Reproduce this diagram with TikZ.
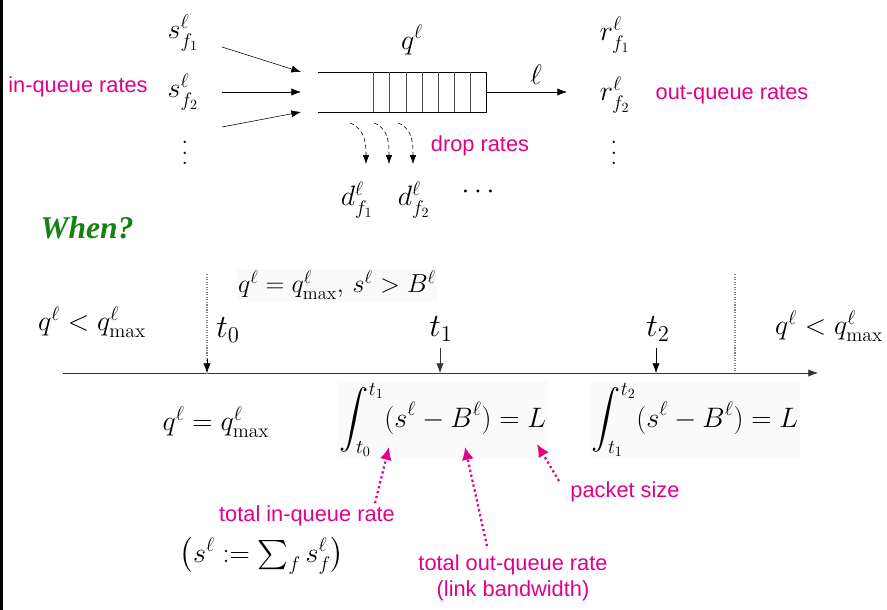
\RequirePackage{fix-cm}
\documentclass[tikz,border=0pt]{standalone}
\usepackage{exscale}
\usepackage{fontspec}
\usetikzlibrary{arrows.meta}
\newfontfamily\lblfont{Liberation Sans}
\newfontfamily\whenfont{Liberation Serif}
\definecolor{notepink}{RGB}{225,0,140}
\definecolor{whengreen}{RGB}{20,130,20}
\newcommand{\tallvdots}{\vbox{\baselineskip=7.5pt\lineskiplimit=0pt\hbox{.}\hbox{.}\hbox{.}}}
\begin{document}
\begin{tikzpicture}[
    x=0.025cm, y=-0.025cm,
    rate/.style={font=\fontsize{20}{24}\selectfont, inner sep=1pt},
    bigmath/.style={font=\fontsize{20}{24}\selectfont, inner sep=1pt},
    smallmath/.style={font=\fontsize{18.5}{22}\selectfont, inner sep=1pt, fill=black!2},
    tlabel/.style={font=\fontsize{23}{26}\selectfont, inner sep=1pt},
    note/.style={font=\lblfont\fontsize{15.5}{18.5}\selectfont, text=notepink, inner sep=1pt, align=center},
    arr/.style={-{Latex[length=2.4mm,width=1.8mm]}},
    drop/.style={densely dashed, -{Latex[length=2.2mm,width=1.6mm]}},
    hint/.style={notepink, line width=1.6pt, dotted, -{Latex[length=3.2mm,width=3mm]}},
    guide/.style={gray, densely dotted, line width=0.8pt}
]
\useasboundingbox (0,0) rectangle (887,610);
\draw[line width=2.2pt] (1,0) -- (1,610);

% queue and rates
\node[rate] (s1) at (183,33) {$s^\ell_{f_1}$};
\node[rate] (s2) at (183,92) {$s^\ell_{f_2}$};
\node[rate] (sdots) at (185,153) {\tallvdots};
\node[rate] (q) at (412,40) {$q^\ell$};
\node[rate] (r1) at (615,35) {$r^\ell_{f_1}$};
\node[rate] (r2) at (615,95) {$r^\ell_{f_2}$};
\node[rate] (rdots) at (614,153) {\tallvdots};
\node[rate] (d1) at (357,200) {$d^\ell_{f_1}$};
\node[rate] (d2) at (414,200) {$d^\ell_{f_2}$};
\node[rate] (ddots) at (478,192) {$\cdots$};
\node[note] (inrates) at (78,87) {in-queue rates};
\node[note] (outrates) at (732,95) {out-queue rates};
\node[note] (droprates) at (480,146) {drop rates};

\draw (318,72) -- (486,72) -- (486,112) -- (318,112);
\foreach \x in {373,389,406,422,438,454,470}
  \draw[black!70] (\x,72) -- (\x,112);

\coordinate (in1) at (222,47);  \coordinate (qin1) at (301,72);
\coordinate (in2) at (222,92);  \coordinate (qin2) at (301,92);
\coordinate (in3) at (222,127); \coordinate (qin3) at (301,112);
\draw[arr] (in1) -- (qin1);
\draw[arr] (in2) -- (qin2);
\draw[arr] (in3) -- (qin3);

\coordinate (qout) at (486,92); \coordinate (link) at (567,92);
\draw[arr] (qout) -- node[rate, above=4pt, pos=0.62] (ell) {$\ell$} (link);

\foreach \i/\sx/\ex in {1/350/366, 2/374/389, 3/398/413} {
  \coordinate (dsrc\i) at (\sx,123);
  \coordinate (ddst\i) at (\ex,164);
  \draw[drop] (dsrc\i) to[out=-20,in=90] (ddst\i);
}

% when?
\node[font=\whenfont\bfseries\itshape\fontsize{22.5}{26}\selectfont, text=whengreen] (when) at (87,228) {When?};

% time line
\coordinate (tstart) at (63,373); \coordinate (tend) at (818,373);
\draw[arr, black!80] (tstart) -- (tend);

\coordinate (g0) at (207,274); \coordinate (t0pt) at (207,373);
\coordinate (t0head) at (207,359);
\coordinate (t1top) at (440,348); \coordinate (t1pt) at (440,373);
\coordinate (t2top) at (656,348); \coordinate (t2pt) at (656,373);
\coordinate (g3) at (735,274); \coordinate (g3pt) at (735,372);
\draw[guide] (g0) -- (t0pt);
\draw[arr] (t0head) -- (t0pt);
\draw[arr, black!80] (t1top) -- (t1pt);
\draw[arr] (t2top) -- (t2pt);
\draw[guide] (g3) -- (g3pt);

\node[tlabel] (t0) at (228,330) {$t_0$};
\node[tlabel] (t1) at (441,329) {$t_1$};
\node[tlabel] (t2) at (658,329) {$t_2$};

\node[smallmath] (cond) at (337,285) {$q^\ell = q^\ell_{\max},\, s^\ell > B^\ell$};
\node[bigmath] (leftq) at (92,322) {$q^\ell < q^\ell_{\max}$};
\node[bigmath] (rightq) at (829,326) {$q^\ell < q^\ell_{\max}$};
\node[bigmath] (fullq) at (216,422) {$q^\ell = q^\ell_{\max}$};
\node[bigmath, fill=black!2] (int1) at (443,420) {$\displaystyle\int_{t_0}^{t_1}(s^\ell - B^\ell) = L$};
\node[bigmath, fill=black!2] (int2) at (695,420) {$\displaystyle\int_{t_1}^{t_2}(s^\ell - B^\ell) = L$};

% annotations
\node[note] (totin) at (307,516) {total in-queue rate};
\node[bigmath] (sumdef) at (262,556) {$\bigl(s^\ell := \sum_f s^\ell_f\bigr)$};
\node[note] (totout) at (513,578) {total out-queue rate\\(link bandwidth)};
\node[note] (pkt) at (625,492) {packet size};

\coordinate (h1tail) at (375,503); \coordinate (h1tip) at (389,447);
\coordinate (h2tail) at (487,546); \coordinate (h2tip) at (465,447);
\coordinate (h3tail) at (559,481); \coordinate (h3tip) at (537,444);
\draw[hint] (h1tail) -- (h1tip);
\draw[hint] (h2tail) -- (h2tip);
\draw[hint] (h3tail) -- (h3tip);
\end{tikzpicture}
\end{document}
